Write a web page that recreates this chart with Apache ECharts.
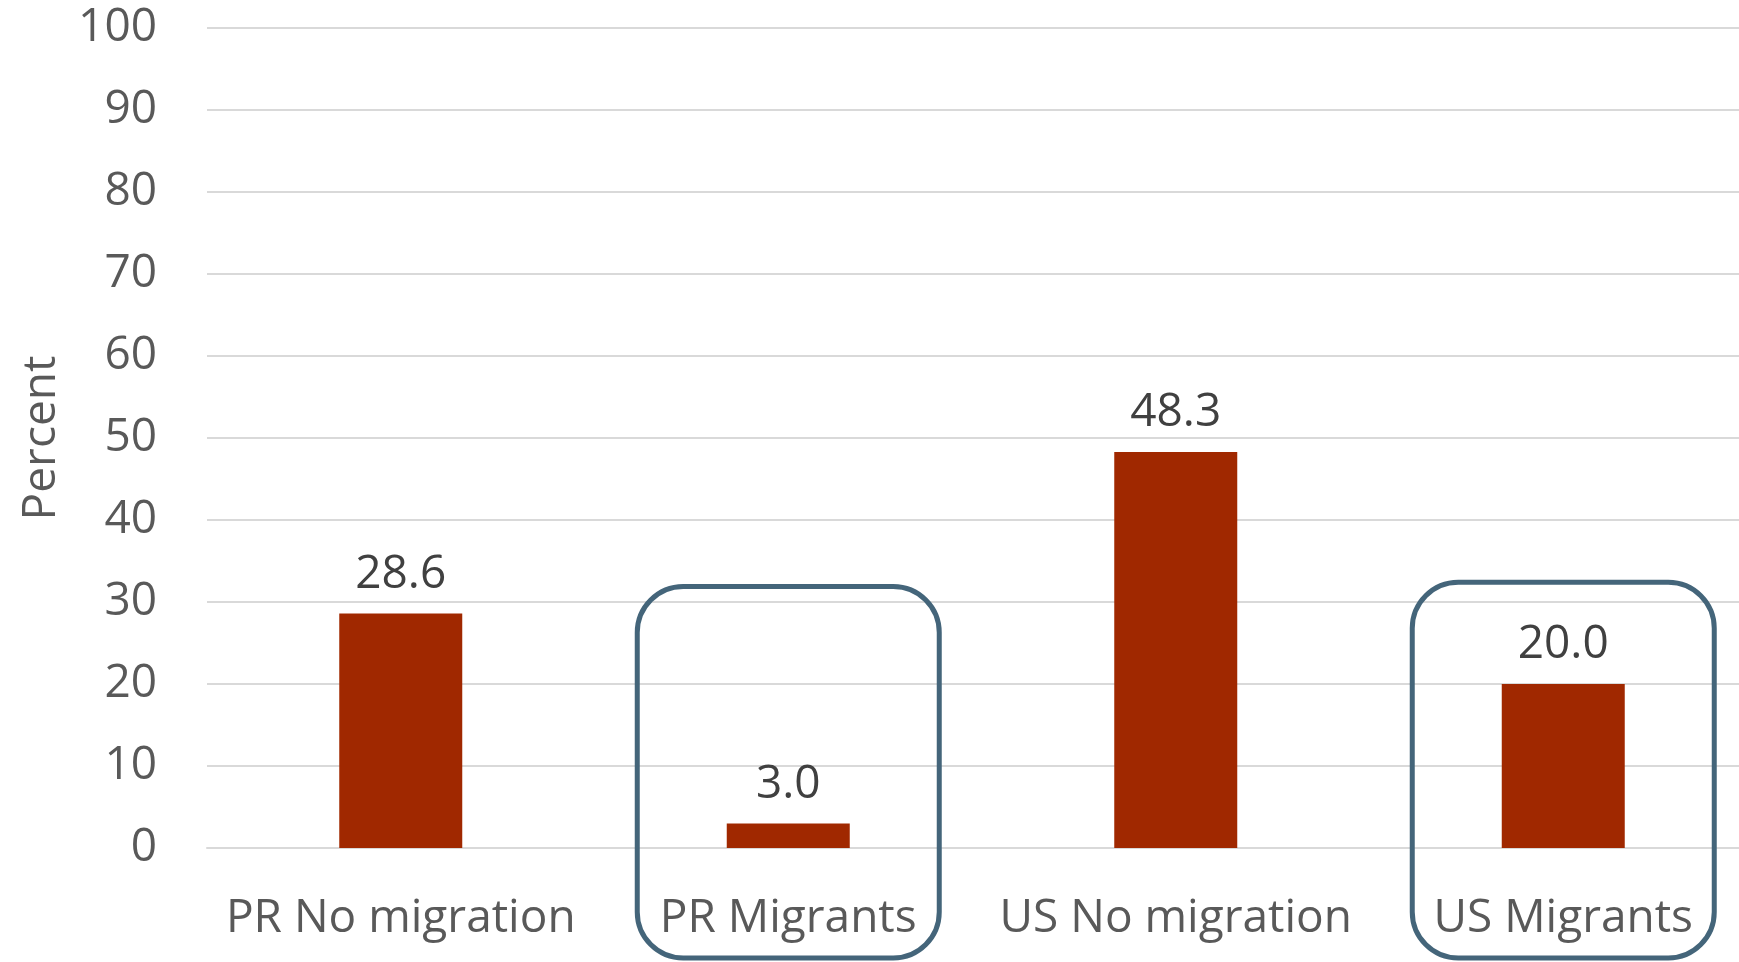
<!DOCTYPE html>
<html>
<head>
<meta charset="utf-8">
<script src="https://cdn.jsdelivr.net/npm/echarts@6/dist/echarts.min.js"></script>
<style>
html,body{margin:0;padding:0;background:#fff;overflow:hidden;width:1739px;height:962px;}
#chart{width:1757px;height:962px;}
</style>
</head>
<body>
<div id="chart"></div>
<script>
const categories = ["PR No migration", "PR Migrants", "US No migration", "US Migrants"];
const values = [28.6, 3.0, 48.3, 20.0];
const yTicks = [0, 10, 20, 30, 40, 50, 60, 70, 80, 90, 100];
const highlighted = ["PR Migrants", "US Migrants"];
const boxTopValues = [31.9, 32.4];

const FONT = "Open Sans";
const chart = echarts.init(document.getElementById('chart'));
const option = {
  animation: false,
  backgroundColor: '#ffffff',
  grid: { left: 207, right: 0, top: 28, height: 820, containLabel: false },
  xAxis: {
    type: 'category',
    data: categories,
    axisLine: { show: true, lineStyle: { color: '#d9d9d9', width: 2 } },
    axisTick: { show: false },
    axisLabel: { color: '#595959', fontFamily: FONT, fontSize: 46, margin: 48, interval: 0 }
  },
  yAxis: {
    type: 'value',
    min: yTicks[0], max: yTicks[yTicks.length - 1], interval: 10,
    name: 'Percent',
    nameLocation: 'middle',
    nameGap: 142,
    nameRotate: 90,
    nameTextStyle: { color: '#595959', fontFamily: FONT, fontSize: 46 },
    axisLine: { show: false },
    axisTick: { show: false },
    axisLabel: { color: '#595959', fontFamily: FONT, fontSize: 46, margin: 50,
      padding: [12, 0, 0, 0] },
    splitLine: { lineStyle: { color: '#d9d9d9', width: 2 } }
  },
  series: [{
    type: 'bar',
    data: values,
    barWidth: 123,
    itemStyle: { color: '#A02800' },
    label: {
      show: true, position: 'top', distance: 16,
      formatter: p => p.value.toFixed(1),
      color: '#404040', fontFamily: FONT, fontSize: 46
    }
  }]
};
chart.setOption(option);

function drawBoxes() {
  const graphics = highlighted.map((c, i) => {
    const top = chart.convertToPixel({ gridIndex: 0 }, [c, boxTopValues[i]]);
    const bw = 302;
    return {
      type: 'rect',
      shape: { x: top[0] - bw / 2, y: top[1], width: bw, height: 960 - top[1] - 2, r: 46 },
      style: { fill: 'none', stroke: '#44657A', lineWidth: 5 },
      z: 100
    };
  });
  chart.setOption({ graphic: graphics });
}
drawBoxes();
</script>
</body>
</html>
